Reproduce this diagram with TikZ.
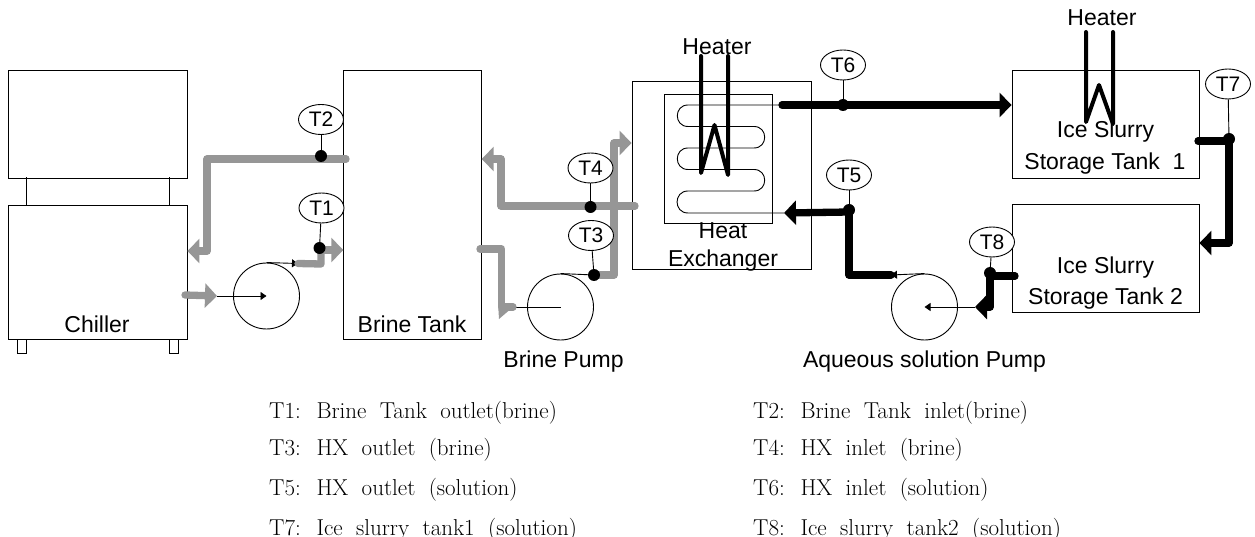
\documentclass[tikz,border=0pt]{standalone}
\usepackage{fontspec}
\usetikzlibrary{arrows.meta,shapes.geometric}
\newfontfamily\labelfont{Liberation Sans}
\newcommand{\legendfont}{\fontsize{23}{24}\selectfont\spaceskip=0.58em\relax}
\definecolor{brinegray}{HTML}{969696}
\tikzset{
    boxnode/.style={draw,inner sep=0pt,line width=0.9pt},
    pumpnode/.style={draw,circle,inner sep=0pt,minimum size=66pt,line width=0.9pt},
    sensornode/.style={draw,ellipse,fill=white,inner sep=0pt,minimum width=45pt,minimum height=30pt,line width=0.9pt,font=\labelfont\fontsize{21}{24}\selectfont},
    sensordot/.style={circle,fill=black,inner sep=0pt,minimum size=12pt},
    labelnode/.style={anchor=base,inner sep=0pt,font=\labelfont\fontsize{23}{26}\selectfont},
    legendnode/.style={anchor=base west,inner sep=0pt,font=\legendfont},
    pipegray/.style={brinegray,line width=7.3pt,line cap=round,line join=round},
    pipeblack/.style={black,line width=7.3pt,line cap=round,line join=round},
    bigtip/.style={-{Triangle[length=12pt,width=24pt]}},
    smalltip/.style={-{Triangle[length=6pt,width=8pt]},line width=0.9pt},
    thinline/.style={line width=0.9pt},
    heaterline/.style={line width=4pt,line cap=round,line join=round}
}
\begin{document}
\begin{tikzpicture}[x=1pt,y=-1pt]
    \useasboundingbox (0,0) rectangle (1255,537);

    % Chiller
    \node[boxnode,minimum width=179pt,minimum height=108pt] (condenser) at (97.5,124) {};
    \node[boxnode,minimum width=179pt,minimum height=134pt] (chiller) at (97.5,272) {};
    \draw[thinline] (26,177.5) -- (26,205);
    \draw[thinline] (169,177.5) -- (169,205);
    \draw[thinline] (17.5,339) rectangle (26.5,353); % Piedini
    \draw[thinline] (169,339) rectangle (178,353);
    \node[labelnode] (chillerlabel) at (97,332) {Chiller};

    % Serbatoi e scambiatore
    \node[boxnode,minimum width=137.5pt,minimum height=269pt] (brinetank) at (412.5,204.5) {};
    \node[labelnode] (brinelabel) at (412,332) {Brine Tank};
    \node[boxnode,minimum width=179pt,minimum height=188pt] (hx) at (721.5,175) {};
    \node[boxnode,minimum width=108pt,minimum height=129.5pt] (hxinner) at (718.5,158.75) {};
    \node[labelnode] (heatlabel) at (723,239) {Heat};
    \node[labelnode] (exchangerlabel) at (723,267) {Exchanger};
    \node[boxnode,minimum width=187pt,minimum height=108pt] (tankone) at (1105.5,124) {};
    \node[boxnode,minimum width=187pt,minimum height=108pt] (tanktwo) at (1105.5,258.5) {};
    \node[labelnode] (iceonelabel) at (1105.5,138) {Ice Slurry};
    \node[labelnode] (storeonelabel) at (1105,170) {Storage Tank\ \ 1};
    \node[labelnode] (icetwolabel) at (1105.5,273) {Ice Slurry};
    \node[labelnode] (storetwolabel) at (1105.5,305) {Storage Tank 2};

    % Serpentina
    \coordinate (coilin) at (784,213);
    \coordinate (coilout) at (782,105);
    \draw[thinline] (coilout) -- (688,105) to[out=180,in=180,looseness=1.7] (688,126.5)
        -- (754,126.5) to[out=0,in=0,looseness=1.7] (754,148)
        -- (688,148) to[out=180,in=180,looseness=1.7] (688,169.5)
        -- (754,169.5) to[out=0,in=0,looseness=1.7] (754,191)
        -- (688,191) to[out=180,in=180,looseness=1.7] (688,213) -- (coilin);

    % Resistenze
    \draw[heaterline] (701,56) -- (701,173) -- (714.5,125) -- (728,175) -- (728,56);
    \draw[heaterline] (1086,32) -- (1086,122) -- (1099,85) -- (1113,124) -- (1113,32);
    \node[labelnode] (heaterhx) at (717,55) {Heater};
    \node[labelnode] (heatertank) at (1102,26) {Heater};

    % Pompe
    \node[pumpnode] (chillerpump) at (266.5,296) {};
    \node[pumpnode] (brinepump) at (560.5,307) {};
    \node[pumpnode] (solutionpump) at (924.5,307) {};
    \node[labelnode] (brinepumplabel) at (563.5,367) {Brine Pump};
    \node[labelnode] (solutionlabel) at (924.5,367) {Aqueous solution Pump};

    % Linee sottili delle pompe
    \coordinate (chillerin) at (217,296);
    \coordinate (chillerout) at (298,263.5);
    \coordinate (brinein) at (515,307);
    \coordinate (brineout) at (594,275);
    \coordinate (solutionin) at (975,307);
    \coordinate (solutionout) at (891,275);
    \draw[smalltip] (chillerin) -- (chillerpump.center);
    \draw[smalltip] (chillerpump.north) -- (chillerout);
    \draw[thinline] (brinein) -- (brinepump.center);
    \draw[thinline] (brinepump.north) -- (brineout);
    \draw[smalltip] (solutionin) -- (solutionpump.center);
    \draw[smalltip] (solutionpump.north) -- (solutionout);

    % Circuito brine
    \coordinate (brineback) at (346,159);
    \draw[pipegray,bigtip] (brineback) -- (207,159) -- (207,251) -- (chiller.east |- 0,251);
    \draw[pipegray,bigtip] (185,295) -- (chillerin);
    \draw[pipegray] (chillerout) -- (321,264) -- (321,250);
    \draw[pipegray,bigtip] (321,250) -- (brinetank.west |- 0,250);
    \draw[pipegray,bigtip] (635,206) -- (501,206) -- (501,159) -- (brinetank.east |- 0,159);
    \draw[pipegray] (480,249) -- (501.5,249) -- (501.5,307) -- (513,307);
    \fill[brinegray] (498,303) -- (499,319) -- (513,307) -- cycle;
    \draw[pipegray,bigtip] (brineout) -- (614,275) -- (614,143) -- (hx.west |- 0,143);

    % Circuito soluzione
    \draw[pipeblack,bigtip] (coilout) -- (tankone.west |- 0,105);
    \draw[pipeblack,bigtip] (849,212) -- (coilin);
    \draw[pipeblack] (849,212) -- (849,275) -- (solutionout);
    \draw[pipeblack,bigtip] (1198,141) -- (1229,141) -- (1229,243) -- (tanktwo.east |- 0,243);
    \draw[pipeblack,bigtip] (1015,276) -- (990,276) -- (990,307) -- (solutionin);

    % Pallini dei sensori
    \node[sensordot] (dotone) at (319.5,248) {};
    \node[sensordot] (dottwo) at (321,156) {};
    \node[sensordot] (dotthree) at (brineout) {};
    \node[sensordot] (dotfour) at (590.5,207) {};
    \node[sensordot] (dotfive) at (849,210) {};
    \node[sensordot] (dotsix) at (843,105) {};
    \node[sensordot] (dotseven) at (1229,139) {};
    \node[sensordot] (doteight) at (990,273) {};

    % Sensori
    \node[sensornode] (Tone) at (321.5,208) {T1};
    \node[sensornode] (Ttwo) at (321,119.5) {T2};
    \node[sensornode] (Tthree) at (591,235.5) {T3};
    \node[sensornode] (Tfour) at (590.5,168) {T4};
    \node[sensornode] (Tfive) at (849,175) {T5};
    \node[sensornode] (Tsix) at (843,65) {T6};
    \node[sensornode] (Tseven) at (1228,84) {T7};
    \node[sensornode] (Teight) at (992,242) {T8};
    \draw[thinline] (Tone) -- (dotone);
    \draw[thinline] (Ttwo) -- (dottwo);
    \draw[thinline] (Tthree) -- (dotthree);
    \draw[thinline] (Tfour) -- (dotfour);
    \draw[thinline] (Tfive) -- (dotfive);
    \draw[thinline] (Tsix) -- (dotsix);
    \draw[thinline] (Tseven) -- (dotseven);
    \draw[thinline] (Teight) -- (doteight);

    % Legenda
    \node[legendnode] (legone) at (269,418) {T1: Brine Tank outlet(brine)};
    \node[legendnode] (legthree) at (269,455) {T3: HX outlet (brine)};
    \node[legendnode] (legfive) at (269,495) {T5: HX outlet (solution)};
    \node[legendnode] (legseven) at (269,535) {T7: Ice slurry tank1 (solution)};
    \node[legendnode] (legtwo) at (753,418) {T2: Brine Tank inlet(brine)};
    \node[legendnode] (legfour) at (753,455) {T4: HX inlet (brine)};
    \node[legendnode] (legsix) at (753,495) {T6: HX inlet (solution)};
    \node[legendnode] (legeight) at (753,535) {T8: Ice slurry tank2 (solution)};
\end{tikzpicture}
\end{document}
